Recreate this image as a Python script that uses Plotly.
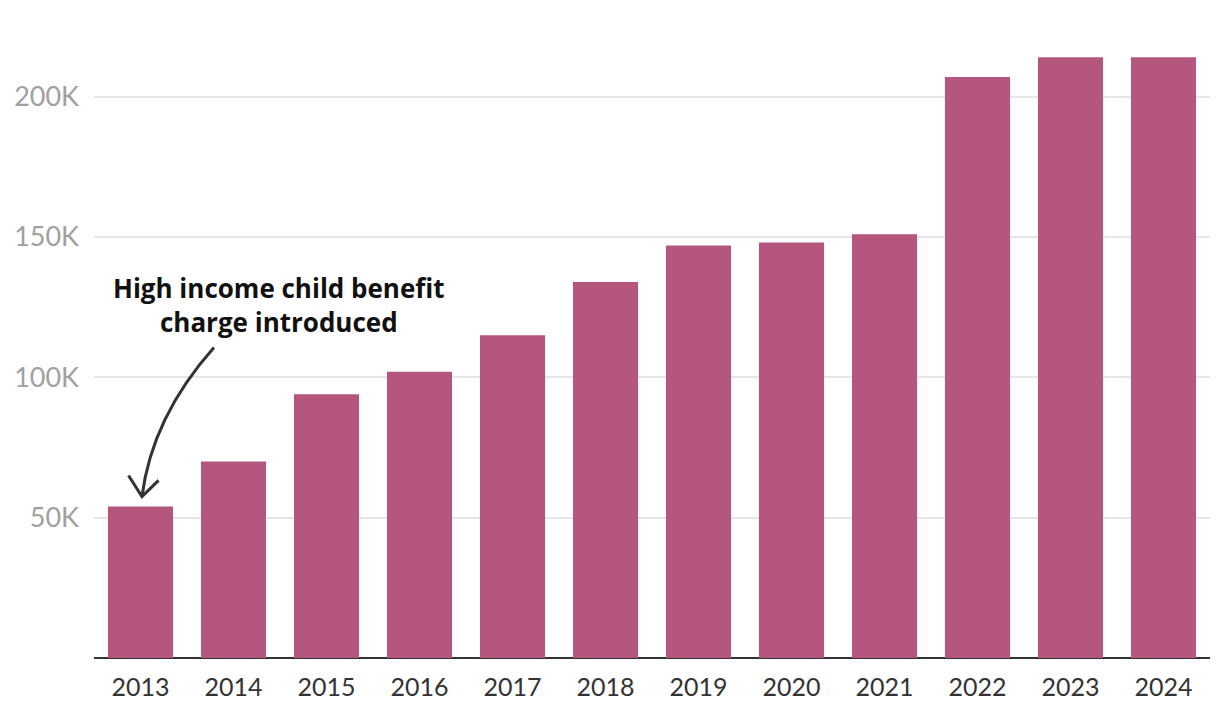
import plotly.graph_objects as go

years = [2013, 2014, 2015, 2016, 2017, 2018, 2019, 2020, 2021, 2022, 2023, 2024]
values = [54000, 70000, 94000, 102000, 115000, 134000, 147000, 148000, 151000, 207000, 214000, 214000]
y_tickvals = [50000, 100000, 150000, 200000]
y_ticktext = ["50K", "100K", "150K", "200K"]
annotation_text = "<b>High income child benefit<br>charge introduced</b>"

BAR = "#b5567e"
FONT = "Lato"

fig = go.Figure()
fig.add_trace(go.Bar(x=years, y=values, marker=dict(color=BAR, line=dict(width=0)),
                     width=0.7, hoverinfo="x+y"))

# curved arrow (quadratic bezier) from the annotation to the 2013 bar
fig.add_shape(type="path", xref="x", yref="y",
              path="M 2013.79,110600 Q 2013.124,85800 2013.016,57500",
              line=dict(color="#333333", width=3))
fig.add_shape(type="path", xref="x", yref="y",
              path="M 2012.871,65000 L 2013.016,57500 L 2013.194,63300",
              line=dict(color="#333333", width=3))

fig.add_annotation(x=2014.49, y=125800, xref="x", yref="y", text=annotation_text,
                   showarrow=False, font=dict(family="Open Sans", size=26, color="#111111"),
                   align="center")

fig.update_layout(
    width=1220, height=724,
    margin=dict(l=86, r=18, t=12, b=74),
    paper_bgcolor="white", plot_bgcolor="white",
    showlegend=False,
    font=dict(family=FONT),
)
fig.update_xaxes(range=[2012.5, 2024.5], tickvals=years, ticktext=[str(y) for y in years],
                 showgrid=False, zeroline=False, showline=False, ticks="", automargin=False,
                 tickfont=dict(family=FONT, size=25, color="#333333"), ticklabelstandoff=12)
fig.update_yaxes(range=[0, 227300], tickvals=y_tickvals, ticktext=y_ticktext,
                 showgrid=True, gridcolor="#e6e6e6", gridwidth=2,
                 zeroline=True, zerolinecolor="#333333", zerolinewidth=2,
                 showline=False, ticks="", automargin=False,
                 tickfont=dict(family=FONT, size=27, color="#a0a0a0"), ticklabelstandoff=14)

fig.write_html("out.html")
